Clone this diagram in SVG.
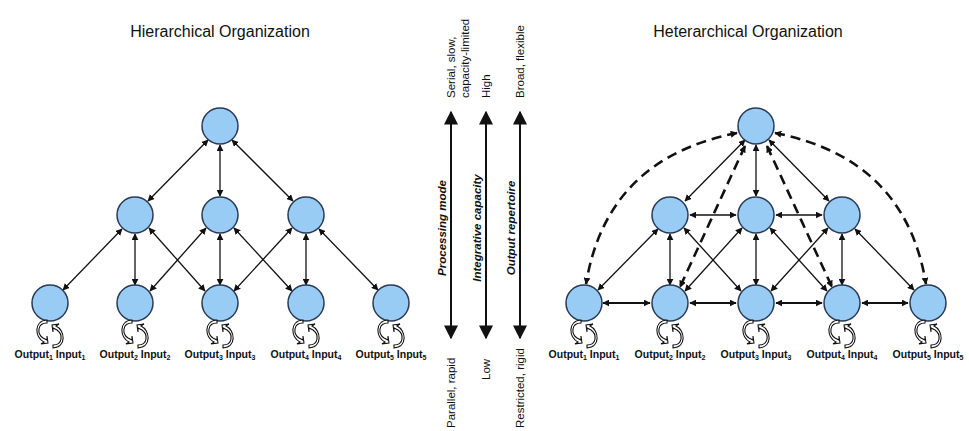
<svg xmlns="http://www.w3.org/2000/svg" width="969" height="431" viewBox="0 0 969 431">
<style>
.n{fill:#99ccf5;stroke:#2a3a55;stroke-width:1.5}
.e{stroke:#111;stroke-width:1.3;fill:none;marker-start:url(#a);marker-end:url(#a)}
.h{stroke:#111;stroke-width:2;fill:none;marker-start:url(#a);marker-end:url(#a)}
.d{stroke:#111;stroke-width:2.6;fill:none;stroke-dasharray:10,6;marker-start:url(#a);marker-end:url(#a)}
.ax{stroke:#111;stroke-width:2;fill:none;marker-start:url(#b);marker-end:url(#b)}
.t{font-family:"Liberation Sans",Arial,sans-serif;fill:#111}
.lb{font-family:"Liberation Sans",Arial,sans-serif;font-size:10.5px;font-weight:bold;fill:#111}
.lp{fill:#fff;stroke:#111;stroke-width:1.1}
</style>
<defs>
<marker id="a" viewBox="0 0 10 10" refX="9" refY="5" markerWidth="7" markerHeight="7" markerUnits="userSpaceOnUse" orient="auto-start-reverse"><path d="M0,0L10,5L0,10z" fill="#111"/></marker>
<marker id="b" viewBox="0 0 10 10" refX="9" refY="5" markerWidth="14" markerHeight="14" markerUnits="userSpaceOnUse" orient="auto-start-reverse"><path d="M0,0L10,5L0,10z" fill="#111"/></marker>
<g id="loop">
<path class="lp" d="M-3,-11 C-13,-11 -13,0 -7,4 L-3,6 L-3,2 L-2,9 L-9,10 L-6,8 C-15,4 -17,-13 -3,-14 z"/>
<path class="lp" d="M3,11 C13,11 13,0 7,-4 L3,-6 L3,-2 L2,-9 L9,-10 L6,-8 C15,-4 17,13 3,14 z"/>
</g>
</defs>
<rect width="969" height="431" fill="#fff"/>
<text class="t" x="220" y="37" font-size="16" text-anchor="middle">Hierarchical Organization</text>
<text class="t" x="748" y="37" font-size="16" text-anchor="middle">Heterarchical Organization</text>
<g id="connectors">
<line class="e" x1="208" y1="140" x2="148" y2="201"/>
<line class="e" x1="220" y1="145" x2="220" y2="196"/>
<line class="e" x1="232" y1="140" x2="293" y2="201"/>
<line class="e" x1="122" y1="229" x2="63" y2="290"/>
<line class="e" x1="135" y1="234" x2="135" y2="285"/>
<line class="e" x1="149" y1="228" x2="205" y2="291"/>
<line class="e" x1="206" y1="228" x2="150" y2="291"/>
<line class="e" x1="220" y1="234" x2="220" y2="285"/>
<line class="e" x1="234" y1="228" x2="292" y2="291"/>
<line class="e" x1="292" y1="228" x2="234" y2="291"/>
<line class="e" x1="306" y1="234" x2="306" y2="285"/>
<line class="e" x1="319" y1="229" x2="378" y2="290"/>
<line class="e" x1="745" y1="140" x2="685" y2="201"/>
<line class="e" x1="756" y1="145" x2="756" y2="196"/>
<line class="e" x1="769" y1="140" x2="829" y2="201"/>
<line class="e" x1="690" y1="215" x2="736" y2="215"/>
<line class="e" x1="776" y1="215" x2="822" y2="215"/>
<line class="e" x1="658" y1="229" x2="598" y2="290"/>
<line class="e" x1="670" y1="234" x2="670" y2="285"/>
<line class="e" x1="684" y1="228" x2="741" y2="291"/>
<line class="e" x1="742" y1="228" x2="685" y2="291"/>
<line class="e" x1="756" y1="234" x2="756" y2="285"/>
<line class="e" x1="770" y1="228" x2="827" y2="291"/>
<line class="e" x1="828" y1="228" x2="771" y2="291"/>
<line class="e" x1="842" y1="234" x2="842" y2="285"/>
<line class="e" x1="855" y1="229" x2="914" y2="290"/>
<line class="h" x1="603" y1="303" x2="650" y2="303"/>
<line class="h" x1="690" y1="303" x2="736" y2="303"/>
<line class="h" x1="776" y1="303" x2="822" y2="303"/>
<line class="h" x1="862" y1="303" x2="908" y2="303"/>
<line class="d" x1="745" y1="146" x2="680" y2="287"/>
<line class="d" x1="767" y1="146" x2="832" y2="287"/>
<path class="d" d="M737,133 C650,150 600,200 586,284"/>
<path class="d" d="M775,133 C862,150 912,200 926,284"/>
<line class="ax" x1="451" y1="112" x2="451" y2="338"/>
<line class="ax" x1="486" y1="112" x2="486" y2="338"/>
<line class="ax" x1="520" y1="112" x2="520" y2="338"/>
</g>
<g id="nodes-left">
<circle id="h0" class="n" cx="220" cy="126" r="18"/>
<circle id="h1" class="n" cx="135" cy="215" r="18"/>
<circle id="h2" class="n" cx="220" cy="215" r="18"/>
<circle id="h3" class="n" cx="306" cy="215" r="18"/>
<circle id="h4" class="n" cx="50" cy="303" r="18"/>
<circle id="h5" class="n" cx="135" cy="303" r="18"/>
<circle id="h6" class="n" cx="220" cy="303" r="18"/>
<circle id="h7" class="n" cx="306" cy="303" r="18"/>
<circle id="h8" class="n" cx="391" cy="303" r="18"/>
</g>
<g id="nodes-right">
<circle id="r0" class="n" cx="756" cy="126" r="18"/>
<circle id="r1" class="n" cx="670" cy="215" r="18"/>
<circle id="r2" class="n" cx="756" cy="215" r="18"/>
<circle id="r3" class="n" cx="842" cy="215" r="18"/>
<circle id="r4" class="n" cx="584" cy="303" r="18"/>
<circle id="r5" class="n" cx="670" cy="303" r="18"/>
<circle id="r6" class="n" cx="756" cy="303" r="18"/>
<circle id="r7" class="n" cx="842" cy="303" r="18"/>
<circle id="r8" class="n" cx="928" cy="303" r="18"/>
</g>
<g id="loops">
<use href="#loop" x="50" y="334"/><use href="#loop" x="135" y="334"/><use href="#loop" x="220" y="334"/><use href="#loop" x="306" y="334"/><use href="#loop" x="391" y="334"/>
<use href="#loop" x="584" y="334"/><use href="#loop" x="670" y="334"/><use href="#loop" x="756" y="334"/><use href="#loop" x="842" y="334"/><use href="#loop" x="928" y="334"/>
</g>
<g id="labels">
<text class="lb" x="50" y="358" text-anchor="middle">Output<tspan font-size="7" dy="2">1</tspan><tspan dy="-2"> Input</tspan><tspan font-size="7" dy="2">1</tspan></text>
<text class="lb" x="135" y="358" text-anchor="middle">Output<tspan font-size="7" dy="2">2</tspan><tspan dy="-2"> Input</tspan><tspan font-size="7" dy="2">2</tspan></text>
<text class="lb" x="220" y="358" text-anchor="middle">Output<tspan font-size="7" dy="2">3</tspan><tspan dy="-2"> Input</tspan><tspan font-size="7" dy="2">3</tspan></text>
<text class="lb" x="306" y="358" text-anchor="middle">Output<tspan font-size="7" dy="2">4</tspan><tspan dy="-2"> Input</tspan><tspan font-size="7" dy="2">4</tspan></text>
<text class="lb" x="391" y="358" text-anchor="middle">Output<tspan font-size="7" dy="2">5</tspan><tspan dy="-2"> Input</tspan><tspan font-size="7" dy="2">5</tspan></text>
<text class="lb" x="584" y="358" text-anchor="middle">Output<tspan font-size="7" dy="2">1</tspan><tspan dy="-2"> Input</tspan><tspan font-size="7" dy="2">1</tspan></text>
<text class="lb" x="670" y="358" text-anchor="middle">Output<tspan font-size="7" dy="2">2</tspan><tspan dy="-2"> Input</tspan><tspan font-size="7" dy="2">2</tspan></text>
<text class="lb" x="756" y="358" text-anchor="middle">Output<tspan font-size="7" dy="2">3</tspan><tspan dy="-2"> Input</tspan><tspan font-size="7" dy="2">3</tspan></text>
<text class="lb" x="842" y="358" text-anchor="middle">Output<tspan font-size="7" dy="2">4</tspan><tspan dy="-2"> Input</tspan><tspan font-size="7" dy="2">4</tspan></text>
<text class="lb" x="928" y="358" text-anchor="middle">Output<tspan font-size="7" dy="2">5</tspan><tspan dy="-2"> Input</tspan><tspan font-size="7" dy="2">5</tspan></text>
</g>
<g id="axes" class="t" font-size="11.5">
<text transform="translate(446,228) rotate(-90)" text-anchor="middle" font-style="italic" font-weight="bold">Processing mode</text>
<text transform="translate(481,228) rotate(-90)" text-anchor="middle" font-style="italic" font-weight="bold">Integrative capacity</text>
<text transform="translate(515,228) rotate(-90)" text-anchor="middle" font-style="italic" font-weight="bold">Output repertoire</text>
<text transform="translate(455,98) rotate(-90)">Serial, slow,</text>
<text transform="translate(469,98) rotate(-90)">capacity-limited</text>
<text transform="translate(490,98) rotate(-90)">High</text>
<text transform="translate(524,98) rotate(-90)">Broad, flexible</text>
<text transform="translate(455,428) rotate(-90)">Parallel, rapid</text>
<text transform="translate(490,380) rotate(-90)">Low</text>
<text transform="translate(524,428) rotate(-90)">Restricted, rigid</text>
</g>
</svg>
